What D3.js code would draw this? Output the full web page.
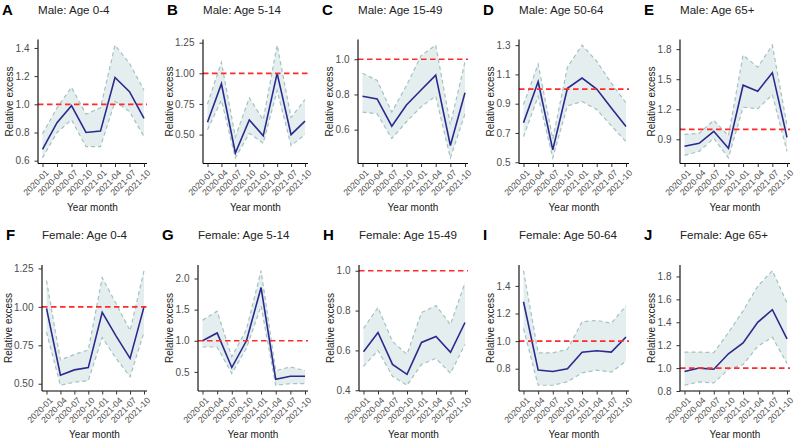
<!DOCTYPE html>
<html>
<head>
<meta charset="utf-8">
<script src="https://cdn.jsdelivr.net/npm/d3@7"></script>
<style>
  body { margin: 0; background: #fff; }
  svg { display: block; font-family: "Liberation Sans", Arial, sans-serif; }
</style>
</head>
<body>
<svg id="chart" width="794" height="440"></svg>
<script>
// Relative excess by quarter, with confidence band, for each sex/age group.
var months = ['2020-01', '2020-04', '2020-07', '2020-10', '2021-01', '2021-04', '2021-07', '2021-10'];

var panelLetters = ['A', 'B', 'C', 'D', 'E', 'F', 'G', 'H', 'I', 'J'];
var panelTitles = [
  'Male: Age 0-4', 'Male: Age 5-14', 'Male: Age 15-49', 'Male: Age 50-64', 'Male: Age 65+',
  'Female: Age 0-4', 'Female: Age 5-14', 'Female: Age 15-49', 'Female: Age 50-64', 'Female: Age 65+'
];

var relExcess = [
  [0.68, 0.87, 0.99, 0.80, 0.81, 1.19, 1.09, 0.90],
  [0.60, 0.915, 0.35, 0.62, 0.49, 1.00, 0.50, 0.61],
  [0.79, 0.775, 0.62, 0.74, 0.825, 0.91, 0.51, 0.81],
  [0.77, 1.05, 0.585, 1.005, 1.075, 1.00, 0.87, 0.745],
  [0.83, 0.86, 0.98, 0.81, 1.44, 1.38, 1.565, 0.92],
  [0.99, 0.555, 0.59, 0.605, 0.965, 0.81, 0.665, 1.00],
  [1.00, 1.125, 0.57, 1.00, 1.855, 0.38, 0.43, 0.43],
  [0.593, 0.69, 0.53, 0.48, 0.64, 0.67, 0.59, 0.74],
  [1.285, 0.79, 0.78, 0.80, 0.92, 0.93, 0.92, 1.03],
  [0.97, 1.00, 0.99, 1.125, 1.22, 1.40, 1.51, 1.255]
];

var ciLower = [
  [0.62, 0.80, 0.89, 0.70, 0.70, 1.02, 0.95, 0.77],
  [0.54, 0.78, 0.31, 0.51, 0.43, 0.86, 0.41, 0.50],
  [0.70, 0.69, 0.55, 0.645, 0.73, 0.79, 0.44, 0.69],
  [0.675, 0.95, 0.53, 0.885, 0.915, 0.86, 0.75, 0.64],
  [0.74, 0.78, 0.91, 0.715, 1.22, 1.205, 1.345, 0.78],
  [0.835, 0.49, 0.51, 0.52, 0.80, 0.665, 0.545, 0.835],
  [0.90, 0.90, 0.475, 0.88, 1.56, 0.285, 0.31, 0.31],
  [0.52, 0.60, 0.47, 0.425, 0.53, 0.56, 0.485, 0.63],
  [1.09, 0.68, 0.68, 0.705, 0.77, 0.79, 0.775, 0.855],
  [0.85, 0.88, 0.87, 0.99, 1.03, 1.19, 1.27, 1.04]
];

var ciUpper = [
  [0.79, 0.975, 1.12, 0.93, 0.975, 1.42, 1.29, 1.10],
  [0.75, 1.09, 0.48, 0.80, 0.62, 1.23, 0.64, 0.785],
  [0.92, 0.88, 0.70, 0.85, 1.02, 1.08, 0.63, 0.985],
  [0.895, 1.17, 0.66, 1.15, 1.30, 1.19, 1.04, 0.905],
  [0.95, 0.96, 1.09, 0.935, 1.74, 1.62, 1.84, 1.04],
  [1.17, 0.655, 0.69, 0.72, 1.19, 1.02, 0.845, 1.235],
  [1.33, 1.475, 0.745, 1.18, 2.125, 0.52, 0.58, 0.52],
  [0.71, 0.815, 0.645, 0.58, 0.79, 0.825, 0.73, 0.94],
  [1.51, 0.915, 0.915, 0.94, 1.14, 1.15, 1.13, 1.255],
  [1.14, 1.14, 1.135, 1.31, 1.50, 1.715, 1.85, 1.57]
];

var yTicks = [
  [0.6, 0.8, 1.0, 1.2, 1.4],
  [0.50, 0.75, 1.00, 1.25],
  [0.6, 0.8, 1.0],
  [0.5, 0.7, 0.9, 1.1, 1.3],
  [0.9, 1.2, 1.5, 1.8],
  [0.50, 0.75, 1.00, 1.25],
  [0.5, 1.0, 1.5, 2.0],
  [0.4, 0.6, 0.8, 1.0],
  [0.8, 1.0, 1.2, 1.4],
  [0.8, 1.0, 1.2, 1.4, 1.6, 1.8]
];
var yTickDecimals = [1, 2, 1, 1, 1, 2, 1, 1, 1, 1];

var refLine = 1;

// Panel boxes (left/right edge of each plot area, top/bottom of each row).
var plotLeft = [38, 203, 358, 519, 680, 42, 198, 359, 519, 680];
var plotRight = [147, 308, 468, 629, 790, 147, 308, 468, 629, 790];
var rowTop = [39.5, 265];
var rowBottom = [163.5, 391];
var titleY = [14, 239];

var svg = d3.select('#chart');

panelTitles.forEach(function(title, i) {
  var row = i < 5 ? 0 : 1;
  var left = plotLeft[i], right = plotRight[i];
  var top = rowTop[row], bottom = rowBottom[row];
  var g = svg.append('g');

  var x = d3.scalePoint()
    .domain(months)
    .range([left + 4.5, right - 3]);

  // y domain follows the data plus the reference line, with 5% padding.
  var lo = Math.min(d3.min(ciLower[i]), refLine);
  var hi = Math.max(d3.max(ciUpper[i]), refLine);
  var pad = (hi - lo) * 0.05;
  var y = d3.scaleLinear()
    .domain([lo - pad, hi + pad])
    .range([bottom, top]);

  var rows = months.map(function(m, j) {
    return { month: m, mean: relExcess[i][j], lower: ciLower[i][j], upper: ciUpper[i][j] };
  });

  // Confidence band.
  g.append('path')
    .datum(rows)
    .attr('fill', '#e5eeee')
    .attr('d', d3.area()
      .x(function(d) { return x(d.month); })
      .y0(function(d) { return y(d.lower); })
      .y1(function(d) { return y(d.upper); }));

  ['lower', 'upper'].forEach(function(key) {
    g.append('path')
      .datum(rows)
      .attr('fill', 'none')
      .attr('stroke', '#a4c2c2')
      .attr('stroke-width', 1.2)
      .attr('stroke-dasharray', '4,3')
      .attr('d', d3.line()
        .x(function(d) { return x(d.month); })
        .y(function(d) { return y(d[key]); }));
  });

  // Mean line.
  g.append('path')
    .datum(rows)
    .attr('fill', 'none')
    .attr('stroke', '#2a2a8e')
    .attr('stroke-width', 1.6)
    .attr('d', d3.line()
      .x(function(d) { return x(d.month); })
      .y(function(d) { return y(d.mean); }));

  // Reference line at 1.
  g.append('line')
    .attr('x1', left)
    .attr('x2', right)
    .attr('y1', y(refLine))
    .attr('y2', y(refLine))
    .attr('stroke', '#ff2b2b')
    .attr('stroke-width', 1.7)
    .attr('stroke-dasharray', '5.5,3.5');

  // Y axis.
  var fmt = d3.format('.' + yTickDecimals[i] + 'f');
  var yAxis = g.append('g')
    .attr('transform', 'translate(' + left + ',0)')
    .call(d3.axisLeft(y).tickValues(yTicks[i]).tickFormat(fmt).tickSize(3.5).tickPadding(5))
    .attr('font-family', null);
  yAxis.select('.domain').attr('d', 'M0,' + top + 'V' + bottom).attr('stroke', '#000').attr('stroke-width', 1.1);
  yAxis.selectAll('.tick line').attr('stroke', '#333');
  yAxis.selectAll('.tick text')
    .attr('fill', '#4d4d4d')
    .style('font-size', '10px');

  // X axis.
  var xAxis = g.append('g')
    .attr('transform', 'translate(0,' + bottom + ')')
    .call(d3.axisBottom(x).tickSize(3.5))
    .attr('font-family', null);
  xAxis.select('.domain').attr('d', 'M' + left + ',0H' + right).attr('stroke', '#000').attr('stroke-width', 1.1);
  xAxis.selectAll('.tick line').attr('stroke', '#333');
  xAxis.selectAll('.tick text')
    .attr('fill', '#4d4d4d')
    .style('font-size', '8.7px')
    .attr('text-anchor', 'end')
    .attr('y', 0)
    .attr('dy', '0.72em')
    .attr('transform', 'translate(2,5.5) rotate(-45)');

  // Axis titles.
  var tickW = d3.max(yAxis.selectAll('.tick text').nodes(), function(n) { return n.getComputedTextLength(); });
  g.append('text')
    .attr('transform', 'translate(' + (left - tickW - 11) + ',' + ((top + bottom) / 2) + ') rotate(-90)')
    .attr('text-anchor', 'middle')
    .attr('fill', '#1a1a1a')
    .style('font-size', '10px')
    .text('Relative excess');

  g.append('text')
    .attr('x', (left + right) / 2)
    .attr('y', bottom + 47)
    .attr('text-anchor', 'middle')
    .attr('fill', '#1a1a1a')
    .style('font-size', '10px')
    .text('Year month');

  // Panel title and letter.
  g.append('text')
    .attr('x', left)
    .attr('y', titleY[row])
    .attr('fill', '#222')
    .style('font-size', '11.6px')
    .text(title);

  g.append('text')
    .attr('x', left - 36)
    .attr('y', titleY[row] + 1)
    .attr('fill', '#000')
    .style('font-size', '15px')
    .style('font-weight', 'bold')
    .text(panelLetters[i]);
});
</script>
</body>
</html>
